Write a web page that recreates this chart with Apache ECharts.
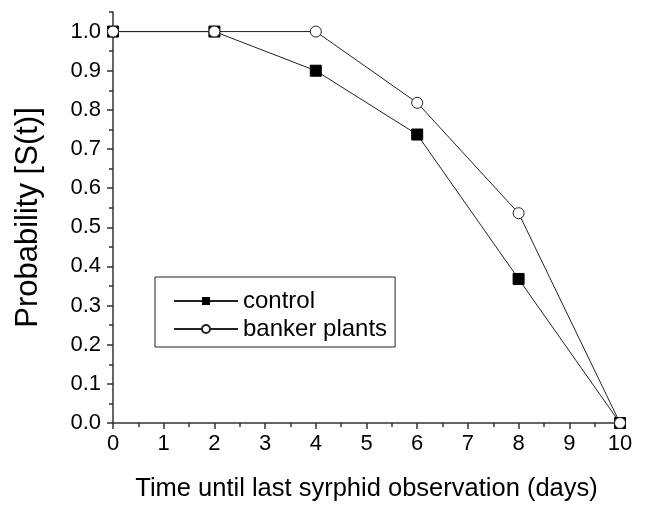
<!DOCTYPE html>
<html><head><meta charset="utf-8">
<script src="https://cdn.jsdelivr.net/npm/echarts@6/dist/echarts.min.js"></script>
<style>html,body{margin:0;padding:0;background:#fff}#c{width:647px;height:508px}</style>
</head><body><div id="c"></div>
<script>
const days = [0, 2, 4, 6, 8, 10];
const control = [1.0, 1.0, 0.9, 0.737, 0.368, 0.0];
const banker = [1.0, 1.0, 1.0, 0.818, 0.536, 0.0];
const yTicks = [0, 0.1, 0.2, 0.3, 0.4, 0.5, 0.6, 0.7, 0.8, 0.9, 1.0];
const yMinorTicks = [0.05, 0.15, 0.25, 0.35, 0.45, 0.55, 0.65, 0.75, 0.85, 0.95, 1.05];

const chart = echarts.init(document.getElementById('c'));
const font = 'Liberation Sans, Arial, sans-serif';
const tickStyle = {color: '#333', width: 1.5};
chart.setOption({
  animation: false,
  backgroundColor: '#fff',
  grid: {left: 113, right: 27, top: 12, bottom: 85},
  legend: {
    left: 155, top: 277, orient: 'vertical',
    padding: [12, 8, 6, 18], itemGap: 4,
    borderColor: '#222', borderWidth: 1,
    itemWidth: 64, itemHeight: 10,
    textStyle: {fontFamily: font, fontSize: 24, color: '#000'},
    data: ['control', 'banker plants']
  },
  xAxis: {
    type: 'value', min: 0, max: 10, interval: 1,
    name: 'Time until last syrphid observation (days)',
    nameLocation: 'middle', nameGap: 53,
    nameTextStyle: {fontFamily: font, fontSize: 25.5, color: '#000'},
    axisLine: {lineStyle: {color: '#333', width: 1.5}},
    axisTick: {length: 6, lineStyle: tickStyle},
    minorTick: {show: true, splitNumber: 2, length: 4, lineStyle: tickStyle},
    axisLabel: {fontFamily: font, fontSize: 22, color: '#000', margin: 10},
    splitLine: {show: false}
  },
  yAxis: [{
    type: 'value', min: 0, max: 1.05,
    name: 'Probability [S(t)]',
    nameLocation: 'middle', nameGap: 69,
    nameTextStyle: {fontFamily: font, fontSize: 31, color: '#000'},
    axisLine: {lineStyle: {color: '#333', width: 1.5}},
    axisTick: {length: 6, customValues: yTicks, lineStyle: tickStyle},
    axisLabel: {fontFamily: font, fontSize: 22, color: '#000', margin: 12,
      customValues: yTicks, formatter: v => v.toFixed(1)},
    splitLine: {show: false}
  }, {
    type: 'value', min: 0, max: 1.05, position: 'left',
    axisLine: {show: false},
    axisTick: {show: true, length: 4, lineStyle: tickStyle, customValues: yMinorTicks},
    axisLabel: {show: false},
    splitLine: {show: false}
  }],
  series: [
    {
      name: 'control', type: 'line',
      data: days.map((d, i) => [d, control[i]]),
      symbol: 'rect', symbolSize: 11,
      itemStyle: {color: '#000', borderColor: '#000'},
      lineStyle: {color: '#222', width: 1}
    },
    {
      name: 'banker plants', type: 'line',
      data: days.map((d, i) => [d, banker[i]]),
      symbol: 'circle', symbolSize: 11,
      itemStyle: {color: '#fff', borderColor: '#222', borderWidth: 1},
      lineStyle: {color: '#222', width: 1}
    }
  ]
});
</script></body></html>
